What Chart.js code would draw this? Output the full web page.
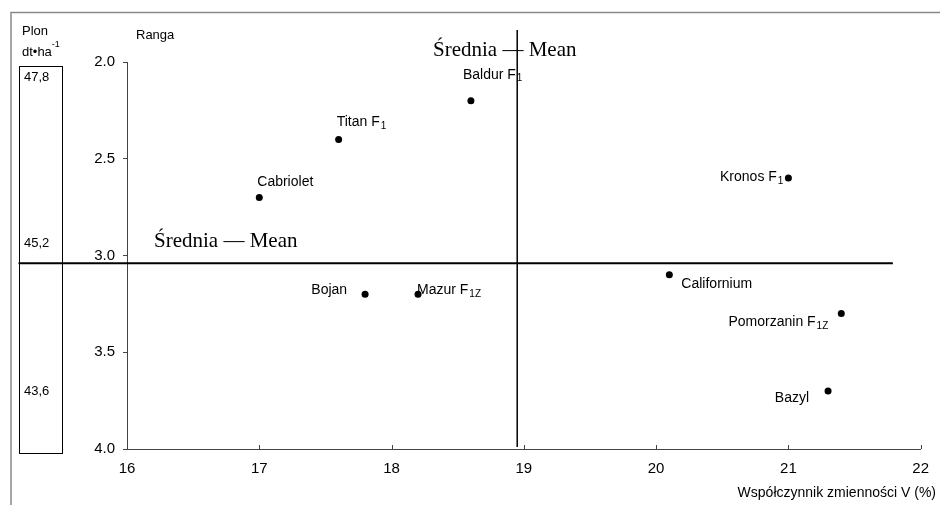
<!DOCTYPE html>
<html><head><meta charset="utf-8">
<script src="https://cdn.jsdelivr.net/npm/chart.js@4.4.1/dist/chart.umd.min.js"></script>
<style>html,body{margin:0;padding:0;background:#fff;}#wrap{width:940px;height:505px;}</style>
</head><body><div id="wrap"><canvas id="c" width="940" height="505"></canvas></div>
<script>
// ---- data ----
const varieties = ['Baldur F','Titan F','Cabriolet','Kronos F','Californium','Bojan','Mazur F','Pomorzanin F','Bazyl'];
const subscripts = ['1','1','','1','','','1Z','1Z',''];
const cvValues   = [18.6, 17.6, 17.0, 21.0, 20.1, 17.8, 18.2, 21.4, 21.3];
const rankValues = [2.2, 2.4, 2.7, 2.6, 3.1, 3.2, 3.2, 3.3, 3.7];
const meanCV = [18.95];
const meanRank = [3.04];
const xTicks = [16, 17, 18, 19, 20, 21, 22];
const yTicks = [2.0, 2.5, 3.0, 3.5, 4.0];
const yieldLabels = ['47,8', '45,2', '43,6'];
const yieldRanks  = [2.08, 2.94, 3.70];

// ---- placement (pixel offsets of labels from their point) ----
const labelPlace = [
  {dx:-8, dy:-26, align:'left'},
  {dx:-2, dy:-17, align:'left'},
  {dx:-2, dy:-15, align:'left'},
  {dx:-5, dy:-1, align:'right'},
  {dx:12, dy:9, align:'left'},
  {dx:-18, dy:-4, align:'right'},
  {dx:-1, dy:-4, align:'left'},
  {dx:-13, dy:9, align:'right'},
  {dx:-19, dy:7, align:'right'}
];

const SANS = '"Liberation Sans", Arial, sans-serif';
const SERIF = '"Liberation Serif", "Times New Roman", serif';

const decor = {
  id: 'decor',
  afterDraw(chart) {
    const ctx = chart.ctx, xs = chart.scales.x, ys = chart.scales.y;
    ctx.save();
    // outer frame (gray)
    ctx.strokeStyle = '#8a8a8a'; ctx.lineWidth = 1.5;
    ctx.beginPath(); ctx.moveTo(11, 505); ctx.lineTo(11, 12.5); ctx.lineTo(940, 12.5); ctx.stroke();
    // inner x ticks
    ctx.strokeStyle = '#444'; ctx.lineWidth = 1;
    xTicks.forEach(v => {
      const px = Math.round(xs.getPixelForValue(v)) + 0.5;
      ctx.beginPath(); ctx.moveTo(px, ys.bottom); ctx.lineTo(px, ys.bottom - 4); ctx.stroke();
    });
    // yield box
    ctx.strokeStyle = '#000'; ctx.lineWidth = 1;
    ctx.strokeRect(19.5, 66.5, 43, 387);
    ctx.fillStyle = '#000'; ctx.textBaseline = 'middle'; ctx.textAlign = 'left';
    ctx.font = '13px ' + SANS;
    yieldLabels.forEach((t, i) => ctx.fillText(t, 24, ys.getPixelForValue(yieldRanks[i])));
    ctx.fillText('Plon', 22, 31);
    ctx.fillText('dt\u2022ha', 22, 52);
    const w = ctx.measureText('dt\u2022ha').width;
    ctx.font = '9px ' + SANS; ctx.fillText('-1', 22 + w, 45);
    ctx.font = '13px ' + SANS; ctx.fillText('Ranga', 136, 35);
    // mean captions
    ctx.font = '21px ' + SERIF; ctx.textBaseline = 'alphabetic';
    ctx.fillText('\u015arednia \u2014 Mean', 433, 56);
    ctx.fillText('\u015arednia \u2014 Mean', 154, 247);
    // x axis title
    ctx.font = '14px ' + SANS; ctx.textAlign = 'right'; ctx.textBaseline = 'middle';
    ctx.fillText('Wsp\u00f3\u0142czynnik zmienno\u015bci V (%)', 936, 493);
    // point labels
    ctx.textAlign = 'left';
    varieties.forEach((name, i) => {
      const px = xs.getPixelForValue(cvValues[i]), py = ys.getPixelForValue(rankValues[i]);
      const p = labelPlace[i];
      ctx.font = '14px ' + SANS;
      const mw = ctx.measureText(name).width;
      ctx.font = '10px ' + SANS;
      const sw = subscripts[i] ? ctx.measureText(subscripts[i]).width + 1 : 0;
      let x0 = px + p.dx; if (p.align === 'right') x0 -= (mw + sw);
      const y0 = py + p.dy;
      ctx.font = '14px ' + SANS; ctx.fillText(name, x0, y0);
      if (subscripts[i]) { ctx.font = '10px ' + SANS; ctx.fillText(subscripts[i], x0 + mw + 1, y0 + 4); }
    });
    ctx.restore();
  }
};

new Chart(document.getElementById('c'), {
  type: 'scatter',
  data: {
    datasets: [
      { data: cvValues.map((v, i) => ({x: v, y: rankValues[i]})), pointRadius: 3.5, pointHoverRadius: 3.5,
        pointBackgroundColor: '#000', pointBorderWidth: 0, showLine: false },
      { type: 'line', data: [{x: meanCV[0], y: 1.835}, {x: meanCV[0], y: 3.99}], borderColor: '#000',
        borderWidth: 1.5, pointRadius: 0, clip: false, fill: false },
      { type: 'line', data: [{x: 15.18, y: meanRank[0]}, {x: 21.79, y: meanRank[0]}], borderColor: '#000',
        borderWidth: 2, pointRadius: 0, clip: false, fill: false }
    ]
  },
  options: {
    responsive: false, animation: false,
    layout: { padding: { top: 62, right: 19, left: 0, bottom: 0 } },
    plugins: { legend: { display: false }, tooltip: { enabled: false } },
    scales: {
      x: {
        type: 'linear', min: 16, max: 22,
        afterBuildTicks: s => { s.ticks = xTicks.map(v => ({value: v})); },
        afterFit: s => { s.height = 56; },
        grid: { display: false, drawTicks: false },
        border: { display: true, color: '#444', width: 1 },
        ticks: { padding: 11, color: '#000', font: { size: 15, family: SANS } }
      },
      y: {
        type: 'linear', reverse: true, min: 2, max: 4,
        afterBuildTicks: s => { s.ticks = yTicks.map(v => ({value: v})); },
        afterFit: s => { s.width = 127; },
        grid: { display: true, drawOnChartArea: false, drawTicks: true, tickLength: 4, color: '#444' },
        border: { display: true, color: '#444', width: 1 },
        ticks: { padding: 8, color: '#000', font: { size: 15, family: SANS }, callback: v => Number(v).toFixed(1) }
      }
    }
  },
  plugins: [decor]
});
</script></body></html>
